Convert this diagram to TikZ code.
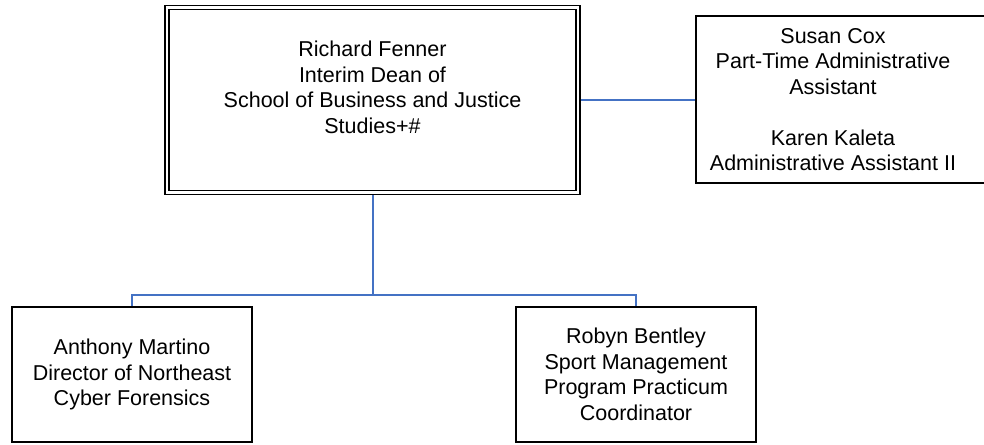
\documentclass[tikz,border=0pt]{standalone}
\usepackage{fontspec}
\setmainfont{Liberation Sans}
\usetikzlibrary{positioning,backgrounds,calc}

\definecolor{linkblue}{HTML}{4472C4}
\tikzset{
  orgfont/.style={font=\fontsize{21.5}{25.5}\selectfont},
  box/.style={draw, line width=1.6pt, align=center, orgfont},
  link/.style={draw=linkblue, line width=2pt},
}

\begin{document}
\begin{tikzpicture}[x=1pt,y=-1pt]
    \useasboundingbox (0,0) rectangle (984,444);

    % Dean box
    \node[box, double, line width=1.3pt, double distance=2.5pt, minimum width=411pt, minimum height=185pt] (dean) at (372.5,100)
      {Richard Fenner\\Interim Dean of\\School of Business and Justice\\Studies+\#\\\mbox{}};

    % Administrative staff
    \node[box, minimum width=304pt, minimum height=167pt] (staff) at (848,99.5) {};
    \node[align=center, orgfont] (stafftext) at ([xshift=-15pt]staff.center)
      {Susan Cox\\Part-Time Administrative\\Assistant\\[25.5pt]Karen Kaleta\\Administrative Assistant II};

    % Reports
    \foreach \n/\x/\t in {martino/132/{Anthony Martino\\Director of Northeast\\Cyber Forensics},
                          bentley/636/{Robyn Bentley\\Sport Management\\Program Practicum\\Coordinator}} {
      \node[box, minimum width=240pt, minimum height=135pt] (\n) at (\x,374.5) {\t};
    }

    % Connectors
    \begin{scope}[on background layer]
      \coordinate (bus) at ($(dean.south |- martino.north)+(0,-11)$);
      \draw[link] (dean.east) -- (dean.east -| staff.west);
      \draw[link] (dean.south) -- (bus);
      \draw[link] (martino.north) |- (bus) -| (bentley.north);
    \end{scope}

\end{tikzpicture}
\end{document}
